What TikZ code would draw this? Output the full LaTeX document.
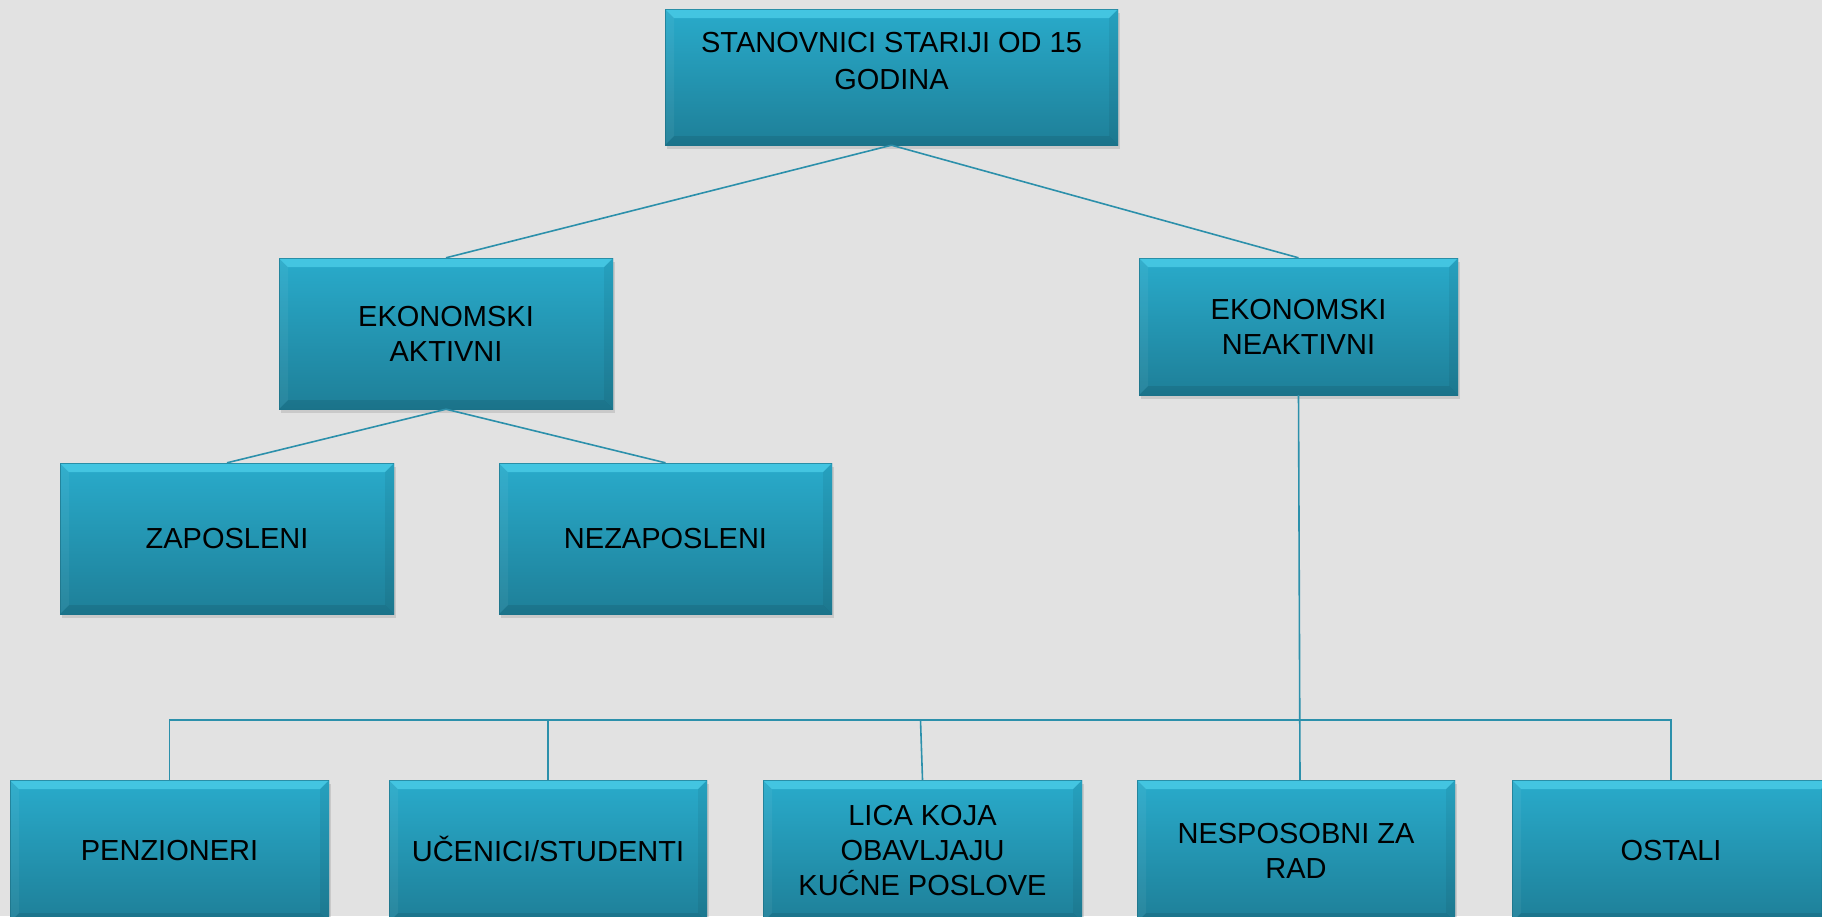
\documentclass[tikz,border=0pt]{standalone}
\usepackage{fontspec}
\setmainfont{Liberation Sans}
\usetikzlibrary{shadows}
\definecolor{bgc}{HTML}{E2E2E2}
\definecolor{boxtop}{HTML}{29ABCB}
\definecolor{boxbot}{HTML}{1E7F98}
\definecolor{bevlight}{HTML}{5ADCF5}
\definecolor{linec}{HTML}{2C90AB}
\tikzset{
  box/.style={rectangle, inner sep=0pt, align=center,
    top color=boxtop, bottom color=boxbot,
    font=\fontsize{29}{35}\selectfont, text=black,
    drop shadow={opacity=0.25, shadow xshift=2pt, shadow yshift=-4pt},
    path picture={
      \fill[bevlight, opacity=0.55] (path picture bounding box.north west) -- (path picture bounding box.north east)
        -- ([xshift=-9pt,yshift=-9pt]path picture bounding box.north east) -- ([xshift=9pt,yshift=-9pt]path picture bounding box.north west) -- cycle;
      \fill[black, opacity=0.09] (path picture bounding box.south west) -- (path picture bounding box.south east)
        -- ([xshift=-9pt,yshift=9pt]path picture bounding box.south east) -- ([xshift=9pt,yshift=9pt]path picture bounding box.south west) -- cycle;
      \fill[black, opacity=0.06] (path picture bounding box.north east) -- (path picture bounding box.south east)
        -- ([xshift=-9pt,yshift=9pt]path picture bounding box.south east) -- ([xshift=-9pt,yshift=-9pt]path picture bounding box.north east) -- cycle;
      \fill[white, opacity=0.05] (path picture bounding box.north west) -- (path picture bounding box.south west)
        -- ([xshift=9pt,yshift=9pt]path picture bounding box.south west) -- ([xshift=9pt,yshift=-9pt]path picture bounding box.north west) -- cycle;
      \draw[boxbot!85!black, opacity=0.6, line width=1pt] (path picture bounding box.south west) rectangle (path picture bounding box.north east);
    }},
  conn/.style={draw=linec, line width=1.6pt}
}
\begin{document}
\begin{tikzpicture}[x=1pt,y=-1pt]
\fill[bgc] (0,0) rectangle (1822,916);
\clip (0,0) rectangle (1822,916);
\useasboundingbox (0,0) rectangle (1822,916);

\node[box, minimum width=453pt, minimum height=136pt, font=\fontsize{29}{37}\selectfont] (top) at (891.5,77) {STANOVNICI STARIJI OD 15\\GODINA\\[-5pt]\mbox{}};
\node[box, minimum width=334pt, minimum height=151pt] (akt) at (446,333.5) {EKONOMSKI\\AKTIVNI};
\node[box, minimum width=319pt, minimum height=137pt] (neakt) at (1298.5,326.5) {EKONOMSKI\\NEAKTIVNI};
\node[box, minimum width=334pt, minimum height=151pt] (zap) at (227,538.5) {ZAPOSLENI};
\node[box, minimum width=333pt, minimum height=151pt] (nezap) at (665.5,538.5) {NEZAPOSLENI};

\node[box, minimum width=319pt, minimum height=142pt] (penz) at (169.5,851) {PENZIONERI};
\node[box, minimum width=318pt, minimum height=142pt, text height=21pt, text depth=0pt] (uc) at (548,851) {UČENICI/STUDENTI};
\node[box, minimum width=319pt, minimum height=142pt] (lica) at (922.5,851) {LICA KOJA\\OBAVLJAJU\\KUĆNE POSLOVE};
\node[box, minimum width=318pt, minimum height=142pt] (nesp) at (1296,851) {NESPOSOBNI ZA\\RAD};
\node[box, minimum width=318pt, minimum height=142pt] (ost) at (1671,851) {OSTALI};

\coordinate (bus) at (0,720);

\draw[conn] (top.south) -- (akt.north);
\draw[conn] (top.south) -- (neakt.north);
\draw[conn] (akt.south) -- (zap.north);
\draw[conn] (akt.south) -- (nezap.north);
\draw[conn] (neakt.south) -- ([xshift=1.5pt]neakt.south |- nesp.north);
\draw[conn] (penz.north) -- (penz.north |- bus) -| (ost.north);
\draw[conn] (uc.north) -- (uc.north |- bus);
\draw[conn] (lica.north) -- ([xshift=-2pt]lica.north |- bus);
\end{tikzpicture}
\end{document}
